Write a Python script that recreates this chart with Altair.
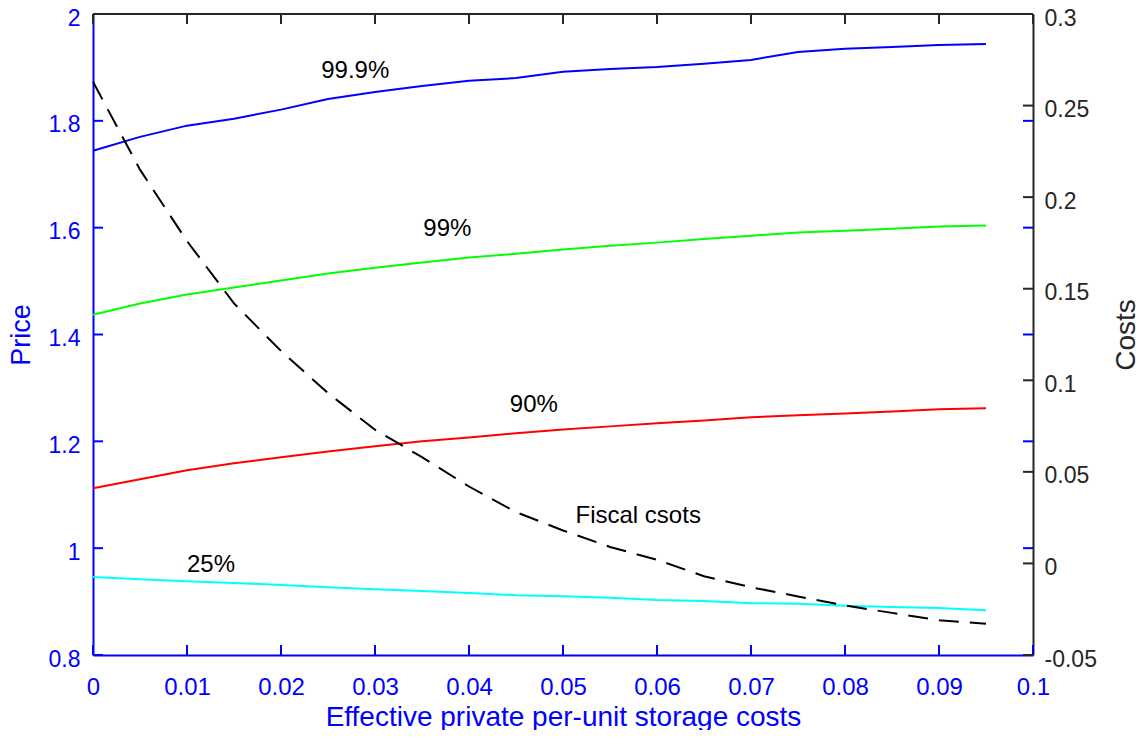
import altair as alt
import pandas as pd

# x grid: effective private per-unit storage costs
storage = [0.0, 0.005, 0.01, 0.015, 0.02, 0.025, 0.03, 0.035, 0.04, 0.045,
           0.05, 0.055, 0.06, 0.065, 0.07, 0.075, 0.08, 0.085, 0.09, 0.095]

# price quantiles (left axis)
price_999 = [1.744, 1.770, 1.791, 1.804, 1.821, 1.841, 1.854, 1.865, 1.875, 1.880,
             1.892, 1.897, 1.901, 1.907, 1.914, 1.929, 1.935, 1.938, 1.942, 1.944]
price_99 = [1.437, 1.458, 1.475, 1.488, 1.501, 1.514, 1.525, 1.535, 1.544, 1.551,
            1.559, 1.566, 1.572, 1.579, 1.585, 1.591, 1.594, 1.598, 1.602, 1.604]
price_90 = [1.112, 1.129, 1.146, 1.159, 1.170, 1.181, 1.191, 1.200, 1.207, 1.215,
            1.222, 1.228, 1.234, 1.239, 1.245, 1.249, 1.252, 1.256, 1.260, 1.262]
price_25 = [0.946, 0.942, 0.938, 0.935, 0.931, 0.927, 0.923, 0.920, 0.916, 0.912,
            0.910, 0.907, 0.903, 0.901, 0.897, 0.896, 0.892, 0.890, 0.888, 0.884]

# fiscal costs (right axis)
fiscal = [0.263, 0.215, 0.176, 0.142, 0.116, 0.093, 0.073, 0.058, 0.042, 0.028,
          0.018, 0.009, 0.002, -0.007, -0.013, -0.018, -0.023, -0.027, -0.031, -0.033]

levels = ["99.9%", "99%", "90%", "25%"]
level_colors = ["#0000FF", "#00FF00", "#FF0000", "#00FFFF"]

label_text = ["99.9%", "99%", "90%", "25%", "Fiscal csots"]
label_x = [0.0279, 0.0377, 0.0469, 0.01255, 0.058]
label_price = [1.880, 1.584, 1.255, 0.955, 1.047]

x_ticks = [0.0, 0.01, 0.02, 0.03, 0.04, 0.05, 0.06, 0.07, 0.08, 0.09, 0.1]
price_ticks = [0.8, 1.0, 1.2, 1.4, 1.6, 1.8, 2.0]
cost_ticks = [-0.05, 0.0, 0.05, 0.1, 0.15, 0.2, 0.25, 0.3]

FONT = "Liberation Sans"
BLUE = "#0000FF"
DARK = "#262626"
W, H = 940, 641
LW = 2

rows = []
for name, series in zip(levels, [price_999, price_99, price_90, price_25]):
    for xv, pv in zip(storage, series):
        rows.append({"x": xv, "price": pv, "level": name})
price_df = pd.DataFrame(rows)
cost_df = pd.DataFrame({"x": storage, "cost": fiscal})
label_df = pd.DataFrame({"x": label_x, "price": label_price, "text": label_text})
xt_df = pd.DataFrame({"x": x_ticks})
pt_df = pd.DataFrame({"price": price_ticks})
ct_df = pd.DataFrame({"cost": cost_ticks})

x_scale = alt.Scale(domain=[0, 0.1], nice=False, zero=False)
p_scale = alt.Scale(domain=[0.8, 2.0], nice=False, zero=False)
c_scale = alt.Scale(domain=[-0.05, 0.3], nice=False, zero=False)

num_expr = "datum.value < 0 ? '-' + format(-datum.value, '~g') : format(datum.value, '~g')"

x_axis = alt.Axis(
    values=x_ticks, labelExpr=num_expr, title="Effective private per-unit storage costs",
    ticks=False, tickSize=0, grid=False, domainColor=BLUE, domainWidth=LW,
    labelColor=BLUE, labelFont=FONT, labelFontSize=24, labelPadding=20,
    labelFlush=False, labelOverlap=False,
    titleColor=BLUE, titleFont=FONT, titleFontSize=28, titleFontWeight="normal",
    titleBaseline="alphabetic", titleY=70,
)
p_axis = alt.Axis(
    values=price_ticks, labelExpr=num_expr, title="Price", orient="left",
    ticks=False, tickSize=0, grid=False, domainColor=BLUE, domainWidth=LW,
    labelColor=BLUE, labelFont=FONT, labelFontSize=23, labelPadding=13,
    labelFlush=False, labelOverlap=False, labelBaseline="alphabetic", labelOffset=11,
    titleColor=BLUE, titleFont=FONT, titleFontSize=27, titleFontWeight="normal",
    titleAngle=270, titleBaseline="alphabetic", titleX=-64,
)
c_axis = alt.Axis(
    values=cost_ticks, labelExpr=num_expr, title="Costs", orient="right",
    ticks=False, tickSize=0, grid=False, domainColor=DARK, domainWidth=LW,
    labelColor=DARK, labelFont=FONT, labelFontSize=23, labelPadding=11,
    labelFlush=False, labelOverlap=False, labelBaseline="alphabetic", labelOffset=11,
    titleColor=DARK, titleFont=FONT, titleFontSize=28, titleFontWeight="normal",
    titleAngle=270, titleBaseline="alphabetic", titleX=101,
)

X = alt.X("x:Q", scale=x_scale, axis=x_axis)
YP = alt.Y("price:Q", scale=p_scale, axis=p_axis)
YC = alt.Y("cost:Q", scale=c_scale, axis=c_axis)

price_lines = alt.Chart(price_df).mark_line(strokeWidth=LW).encode(
    x=X, y=YP,
    color=alt.Color("level:N", scale=alt.Scale(domain=levels, range=level_colors), legend=None),
    order=alt.Order("x:Q"),
)

labels = alt.Chart(label_df).mark_text(
    font=FONT, fontSize=24, color="#000000", align="center", baseline="alphabetic"
).encode(x=X, y=YP, text="text:N")

left_ticks = alt.Chart(pt_df).mark_rule(color=BLUE, strokeWidth=LW).encode(
    y=YP, x=alt.value(0), x2=alt.value(10)
)
right_blue_ticks = alt.Chart(pt_df).mark_rule(color=BLUE, strokeWidth=LW).encode(
    y=YP, x=alt.value(W - 10), x2=alt.value(W)
)
bottom_ticks = alt.Chart(xt_df).mark_rule(color=BLUE, strokeWidth=LW).encode(
    x=X, y=alt.value(H), y2=alt.value(H - 10)
)
top_ticks = alt.Chart(xt_df).mark_rule(color=DARK, strokeWidth=LW).encode(
    x=X, y=alt.value(0), y2=alt.value(10)
)
top_border = alt.Chart(xt_df).mark_rule(color=DARK, strokeWidth=LW).encode(
    x=alt.value(0), x2=alt.value(W), y=alt.value(0)
)

cost_line = alt.Chart(cost_df).mark_line(
    color="#000000", strokeWidth=LW, strokeDash=[20, 11]
).encode(x=X, y=YC)
right_ticks = alt.Chart(ct_df).mark_rule(color=DARK, strokeWidth=LW).encode(
    y=YC, x=alt.value(W - 10), x2=alt.value(W)
)

price_group = alt.layer(price_lines, labels, left_ticks, right_blue_ticks, bottom_ticks, top_ticks, top_border)
cost_group = alt.layer(cost_line, right_ticks)

chart = alt.layer(price_group, cost_group).resolve_scale(y="independent").properties(
    width=W, height=H,
    autosize=alt.AutoSizeParams(type="none"),
    padding={"left": 85, "top": 6, "right": 104, "bottom": 75},
).configure_view(stroke=None).configure(background="white")

chart.save("out.html", embed_options={"renderer": "svg", "actions": False})
